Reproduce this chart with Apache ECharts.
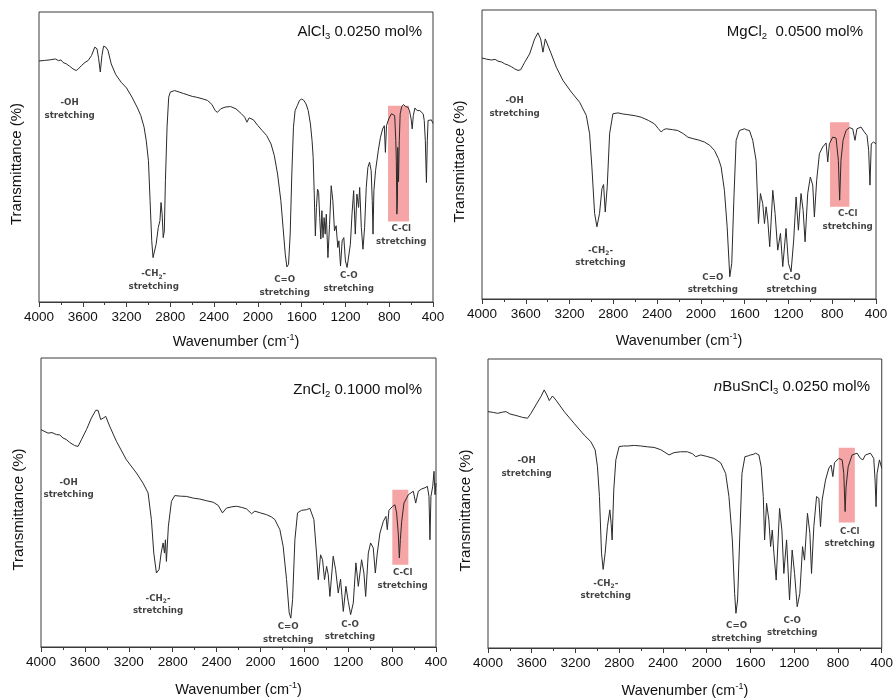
<!DOCTYPE html>
<html>
<head>
<meta charset="utf-8">
<script src="https://cdn.jsdelivr.net/npm/echarts@6/dist/echarts.min.js"></script>
<style>
  html, body { margin: 0; padding: 0; background: #ffffff; }
  #chart { width: 896px; height: 699px; }
</style>
</head>
<body>
<div id="chart"></div>
<script>
// Wavenumber ticks shared by every panel (cm^-1)
const wavenumberTicks = [4000, 3600, 3200, 2800, 2400, 2000, 1600, 1200, 800, 400];

// FTIR spectra: [wavenumber (cm^-1), transmittance (relative %)]
const alcl3Spectrum = [
  [4000,83.1],[3950,83.3],[3900,83.5],[3850,83.8],[3820,83.2],[3800,83.5],[3780,82.6],[3750,82.1],[3720,81.3],
  [3690,80.4],[3660,79.8],[3640,80.4],[3610,81.6],[3580,82.6],[3550,83.3],[3520,85.0],[3490,87.9],[3470,87.3],
  [3455,83.9],[3440,79.3],[3425,85.0],[3410,88.2],[3390,87.9],[3370,86.8],[3340,82.1],[3300,78.5],[3250,75.8],
  [3200,73.8],[3150,70.6],[3100,66.9],[3070,64.3],[3040,60.3],[3020,55.6],[3000,48.7],[2985,34.9],[2970,21.1],
  [2958,15.3],[2945,15.9],[2930,19.9],[2910,25.7],[2895,28.0],[2885,34.3],[2875,30.3],[2865,22.2],[2855,24.5],
  [2845,41.8],[2830,60.3],[2815,70.6],[2800,72.4],[2760,72.9],[2720,72.4],[2680,71.9],[2640,71.4],[2600,70.9],
  [2560,70.6],[2500,70.0],[2460,69.5],[2420,68.1],[2390,66.0],[2370,65.4],[2340,66.6],[2300,67.2],[2250,67.4],
  [2200,66.6],[2150,64.9],[2120,63.7],[2100,62.0],[2080,63.5],[2040,62.8],[2000,60.8],[1960,59.1],[1920,57.4],
  [1880,54.5],[1850,50.5],[1820,44.1],[1790,34.9],[1770,25.7],[1750,16.5],[1735,12.1],[1720,13.0],[1705,23.4],
  [1690,44.1],[1675,60.3],[1660,66.0],[1640,67.7],[1620,69.5],[1600,70.0],[1580,69.5],[1560,68.3],[1540,66.0],
  [1520,61.4],[1505,55.6],[1495,49.9],[1485,37.2],[1475,22.8],[1465,32.6],[1455,38.9],[1445,37.8],[1435,29.1],
  [1425,21.7],[1415,31.5],[1405,22.2],[1395,29.1],[1385,23.4],[1375,30.3],[1360,15.3],[1345,26.8],[1330,40.1],
  [1315,34.9],[1300,24.5],[1285,26.3],[1270,18.8],[1260,21.1],[1245,12.4],[1230,21.1],[1215,22.2],[1200,14.2],
  [1185,11.9],[1170,12.4],[1155,19.9],[1140,30.3],[1125,38.4],[1110,23.4],[1095,37.2],[1080,32.6],[1070,39.5],
  [1055,25.7],[1040,18.2],[1025,25.7],[1010,39.5],[995,46.4],[980,48.2],[965,45.3],[955,34.9],[948,23.4],
  [940,38.4],[925,45.3],[900,52.2],[880,56.8],[860,59.7],[845,60.8],[835,51.6],[825,60.8],[805,63.1],[780,64.9],
  [765,65.4],[750,64.3],[740,55.6],[735,48.7],[730,30.3],[725,34.9],[722,53.3],[715,41.5],[708,55.6],[700,64.9],
  [685,67.4],[670,68.1],[650,67.4],[630,67.2],[615,66.0],[600,63.1],[590,59.7],[580,64.3],[565,66.9],[545,66.0],
  [520,66.0],[505,66.6],[490,64.9],[480,62.6],[470,55.6],[460,41.2],[452,55.6],[445,62.6],[430,63.1],[415,62.8],
  [400,61.6]
];

const mgcl2Spectrum = [
  [4000,83.4],[3960,83.0],[3915,82.7],[3880,82.9],[3854,82.3],[3820,82.0],[3793,81.4],[3760,80.9],[3732,80.4],
  [3700,79.6],[3671,79.1],[3647,79.3],[3610,81.9],[3565,84.8],[3519,90.0],[3489,92.1],[3464,90.0],[3443,85.4],
  [3422,90.0],[3404,89.4],[3367,84.8],[3321,80.2],[3260,75.6],[3184,71.6],[3108,68.1],[3047,63.5],[3017,57.2],
  [2996,45.7],[2971,29.6],[2950,25.0],[2926,29.6],[2904,38.2],[2889,39.6],[2874,30.1],[2856,38.8],[2834,57.2],
  [2804,64.1],[2758,64.4],[2710,64.0],[2667,63.8],[2600,63.4],[2545,62.9],[2480,61.8],[2424,60.6],[2390,59.0],
  [2363,57.8],[2340,58.6],[2317,58.9],[2260,58.6],[2211,58.3],[2160,57.2],[2119,56.0],[2074,55.5],[2020,55.0],
  [1967,54.3],[1920,53.2],[1876,51.4],[1840,48.6],[1815,45.7],[1785,37.6],[1760,25.0],[1736,7.7],[1718,12.3],
  [1699,34.2],[1678,54.9],[1648,58.3],[1625,58.6],[1602,58.9],[1580,58.5],[1556,58.3],[1526,54.9],[1496,48.0],
  [1474,26.1],[1456,36.5],[1435,33.0],[1419,26.1],[1404,31.9],[1389,27.3],[1371,18.1],[1343,37.6],[1322,29.6],
  [1298,16.9],[1273,22.7],[1252,11.2],[1222,24.4],[1200,12.3],[1176,9.4],[1152,20.4],[1130,35.3],[1109,23.8],
  [1085,36.5],[1066,30.7],[1048,19.8],[1024,36.5],[1000,42.2],[978,39.4],[963,28.4],[942,41.1],[917,50.3],
  [887,52.6],[856,54.0],[841,47.4],[826,53.7],[796,56.0],[765,55.7],[744,48.0],[732,34.2],[720,48.0],[701,54.9],
  [674,58.3],[643,59.3],[613,58.9],[592,54.9],[574,58.9],[537,59.5],[507,57.8],[482,56.6],[467,51.4],[455,39.4],
  [443,53.7],[422,54.3],[400,53.7]
];

const zncl2Spectrum = [
  [4000,75.2],[3936,74.0],[3900,74.2],[3860,73.5],[3830,73.4],[3799,72.3],[3770,71.8],[3739,70.8],[3693,69.7],
  [3662,69.4],[3632,71.7],[3586,75.2],[3541,79.2],[3501,81.9],[3480,81.9],[3456,78.7],[3434,79.2],[3410,79.8],
  [3374,76.4],[3313,71.2],[3222,64.8],[3130,60.2],[3070,56.7],[3024,53.3],[2994,44.1],[2972,32.5],[2948,25.6],
  [2924,26.8],[2905,32.5],[2887,36.0],[2875,32.5],[2866,37.1],[2857,29.6],[2839,41.8],[2811,50.4],[2781,52.4],
  [2730,52.2],[2674,52.1],[2610,51.5],[2553,51.2],[2490,50.6],[2431,50.1],[2385,49.0],[2346,46.4],[2309,48.1],
  [2260,48.5],[2218,48.7],[2170,48.3],[2127,47.8],[2081,46.1],[2051,47.0],[2000,46.4],[1945,45.8],[1900,45.0],
  [1869,44.1],[1823,40.6],[1793,34.8],[1762,23.3],[1738,11.8],[1723,10.0],[1707,16.4],[1686,37.1],[1662,46.4],
  [1625,47.3],[1580,47.5],[1550,48.0],[1534,48.1],[1513,44.1],[1489,32.5],[1473,23.3],[1452,31.9],[1434,30.2],
  [1416,23.3],[1397,27.9],[1382,25.0],[1367,17.5],[1337,31.4],[1315,26.8],[1291,18.7],[1270,23.5],[1245,12.3],
  [1221,21.0],[1200,15.8],[1178,11.2],[1154,15.2],[1130,29.1],[1108,21.0],[1078,30.2],[1057,25.6],[1041,17.5],
  [1017,32.5],[996,36.0],[972,34.3],[953,25.6],[935,32.5],[911,39.4],[880,43.5],[856,45.2],[844,40.6],[829,47.3],
  [795,48.7],[774,49.2],[759,46.4],[744,39.4],[734,30.8],[725,37.1],[713,43.4],[692,49.8],[652,52.7],[607,53.9],
  [585,49.8],[561,53.9],[531,54.7],[500,55.1],[479,55.6],[464,52.1],[455,37.1],[446,52.1],[430,55.6],[418,60.8],
  [409,52.7],[400,56.7]
];

const nbusncl3Spectrum = [
  [4000,81.8],[3950,81.5],[3912,81.2],[3870,81.6],[3836,81.8],[3800,81.0],[3760,80.6],[3720,80.2],[3684,79.8],
  [3638,79.5],[3607,81.2],[3562,84.1],[3516,87.0],[3486,89.3],[3461,87.5],[3440,85.6],[3410,87.2],[3379,85.8],
  [3303,81.8],[3212,77.7],[3121,73.7],[3060,71.4],[3020,68.5],[2999,62.7],[2981,52.4],[2962,32.8],[2947,27.2],
  [2929,32.8],[2908,42.0],[2886,47.8],[2874,43.1],[2865,37.4],[2850,54.7],[2831,65.1],[2801,69.7],[2760,69.9],
  [2725,69.9],[2660,70.1],[2603,69.9],[2540,69.6],[2481,69.4],[2420,68.6],[2390,67.9],[2345,66.8],[2299,67.6],
  [2240,67.9],[2177,67.9],[2130,67.2],[2101,66.2],[2055,66.8],[2000,66.3],[1934,65.6],[1873,64.1],[1827,60.4],
  [1797,52.4],[1766,37.4],[1745,18.9],[1733,12.0],[1718,16.6],[1699,37.4],[1678,60.4],[1651,66.2],[1620,66.5],
  [1599,66.8],[1575,67.0],[1553,67.4],[1523,66.8],[1502,62.7],[1483,52.4],[1471,37.4],[1453,50.1],[1432,44.3],
  [1416,35.1],[1401,40.8],[1386,32.8],[1365,23.5],[1334,48.3],[1313,40.8],[1295,25.8],[1270,37.4],[1243,16.6],
  [1219,33.9],[1197,25.8],[1173,14.3],[1149,18.9],[1124,35.1],[1106,30.4],[1079,46.6],[1057,39.7],[1042,25.8],
  [1021,42.0],[996,52.4],[975,51.8],[960,42.0],[945,51.2],[914,58.1],[884,62.2],[863,63.3],[847,59.3],[832,64.1],
  [793,65.6],[762,65.1],[747,60.4],[735,47.2],[726,55.8],[707,62.7],[671,66.8],[625,67.4],[595,65.6],[573,65.1],
  [549,66.8],[503,67.4],[473,65.6],[461,58.1],[452,48.9],[443,60.4],[421,65.1],[400,62.2]
];

// Band assignments: [wavenumber, transmittance, label]
const alcl3Bands = [[3720,66.4,'oh'],[2952,7.5,'ch2'],[1755,5.5,'co_double'],[1170,6.8,'co_single'],[690,23.0,'ccl']];
const mgcl2Bands = [[3702,66.4,'oh'],[2917,14.6,'ch2'],[1891,5.3,'co_double'],[1170,5.3,'co_single'],[659,27.2,'ccl']];
const zncl2Bands = [[3748,54.7,'oh'],[2933,14.6,'ch2'],[1747,4.7,'co_double'],[1184,5.7,'co_single'],[704,23.5,'ccl']];
const nbusncl3Bands = [[3647,62.6,'oh'],[2923,20.2,'ch2'],[1727,5.4,'co_double'],[1219,7.3,'co_single'],[692,38.2,'ccl']];

// Highlighted C-Cl region: [from wavenumber, to wavenumber, upper T, lower T]
const alcl3Highlight = [811, 619, 67.7, 27.8];
const mgcl2Highlight = [820, 643, 61.2, 31.9];
const zncl2Highlight = [798, 652, 54.4, 28.5];
const nbusncl3Highlight = [793, 646, 69.3, 43.4];

// Sample names (rich text for subscripts / italics)
const sampleTitles = [
  '{t|AlCl}{s|3}{t| 0.0250 mol%}',
  '{t|MgCl}{s|2}{t|  0.0500 mol%}',
  '{t|ZnCl}{s|2}{t| 0.1000 mol%}',
  '{i|n}{t|BuSnCl}{s|3}{t| 0.0250 mol%}'
];

const bandText = {
  oh: '-OH\nstretching',
  ch2: '{a|-CH}{b|2}{a|-}\nstretching',
  co_double: 'C=O\nstretching',
  co_single: 'C-O\nstretching',
  ccl: 'C-Cl\nstretching'
};

const panels = [
  { spectrum: alcl3Spectrum, bands: alcl3Bands, hl: alcl3Highlight, title: sampleTitles[0] },
  { spectrum: mgcl2Spectrum, bands: mgcl2Bands, hl: mgcl2Highlight, title: sampleTitles[1] },
  { spectrum: zncl2Spectrum, bands: zncl2Bands, hl: zncl2Highlight, title: sampleTitles[2] },
  { spectrum: nbusncl3Spectrum, bands: nbusncl3Bands, hl: nbusncl3Highlight, title: sampleTitles[3] }
];

// Layout of the four plot frames (px)
const frames = [
  { left: 39, top: 12, width: 394, height: 290, nameGap: 31, titleX: 422, titleY: 32 },
  { left: 482, top: 10, width: 394, height: 289, nameGap: 33, titleX: 863, titleY: 32 },
  { left: 41, top: 358, width: 395, height: 289, nameGap: 34, titleX: 422, titleY: 390 },
  { left: 488, top: 359, width: 395, height: 289, nameGap: 34, titleX: 870, titleY: 387 }
];

const axisFont = 'Liberation Sans, Arial, Helvetica, sans-serif';
const bandFont = 'DejaVu Sans, Verdana, sans-serif';
const ink = '#111';

const xMin = Math.min(...wavenumberTicks);
const xMax = Math.max(...wavenumberTicks);
const xStep = wavenumberTicks[0] - wavenumberTicks[1];

const grid = [], xAxis = [], yAxis = [], series = [], graphic = [];

panels.forEach((p, i) => {
  const f = frames[i];
  grid.push({
    left: f.left, top: f.top, width: f.width, height: f.height,
    show: true, borderColor: '#3a3a3a', borderWidth: 1, backgroundColor: 'transparent'
  });
  xAxis.push({
    gridIndex: i, type: 'value', inverse: true,
    min: xMin, max: xMax, interval: xStep,
    axisLine: { show: true, onZero: false, lineStyle: { color: '#3a3a3a', width: 1 } },
    axisTick: { show: true, inside: false, length: 5, lineStyle: { color: '#3a3a3a' } },
    minorTick: { show: true, splitNumber: 2, length: 3, lineStyle: { color: '#3a3a3a' } },
    splitLine: { show: false },
    axisLabel: {
      fontFamily: axisFont, fontSize: 13.5, color: '#111', margin: 8,
      formatter: v => String(v)
    },
    name: 'Wavenumber (cm{sup|-1})',
    nameLocation: 'middle', nameGap: f.nameGap,
    nameTextStyle: {
      fontFamily: axisFont, fontSize: 14.5, color: '#111',
      rich: { sup: { fontFamily: axisFont, fontSize: 9, color: '#111', verticalAlign: 'top', padding: [0, 0, 8, 0] } }
    }
  });
  yAxis.push({
    gridIndex: i, type: 'value', min: 0, max: 100,
    axisLine: { show: false }, axisTick: { show: false }, axisLabel: { show: false }, splitLine: { show: false },
    name: 'Transmittance (%)', nameLocation: 'middle', nameGap: 15, nameRotate: 90,
    nameTextStyle: { fontFamily: axisFont, fontSize: 15, color: '#111', padding: [0, 14, 0, 0] }
  });

  series.push({
    type: 'line', xAxisIndex: i, yAxisIndex: i,
    data: p.spectrum, showSymbol: false, smooth: false,
    lineStyle: { color: '#2a2a2a', width: 1 },
    markArea: {
      silent: true,
      itemStyle: { color: 'rgba(238, 100, 100, 0.58)', borderRadius: 3 },
      data: [[{ coord: [p.hl[0], p.hl[2]] }, { coord: [p.hl[1], p.hl[3]] }]]
    },
    z: 3
  });

  series.push({
    type: 'scatter', xAxisIndex: i, yAxisIndex: i,
    symbolSize: 0, silent: true, z: 4,
    data: p.bands.map(b => ({ value: [b[0], b[1]], key: b[2] })),
    label: {
      show: true, position: 'inside',
      formatter: params => bandText[params.data.key],
      fontFamily: bandFont, fontSize: 8.7, fontWeight: 'bold', color: ink, lineHeight: 12.5, align: 'center',
      rich: {
        a: { fontFamily: bandFont, fontSize: 8.7, fontWeight: 'bold', color: ink, lineHeight: 12.5 },
        b: { fontFamily: bandFont, fontSize: 6, fontWeight: 'bold', color: ink, verticalAlign: 'bottom', lineHeight: 9 }
      }
    }
  });

  graphic.push({
    type: 'text', x: f.titleX, y: f.titleY, z: 10,
    style: {
      text: p.title, align: 'right', verticalAlign: 'middle',
      rich: {
        t: { fontFamily: axisFont, fontSize: 15, fill: '#111', lineHeight: 18 },
        i: { fontFamily: axisFont, fontSize: 15, fontStyle: 'italic', fill: '#111', lineHeight: 18 },
        s: { fontFamily: axisFont, fontSize: 9.5, fill: '#111', verticalAlign: 'bottom', lineHeight: 9 }
      }
    }
  });
});

const chart = echarts.init(document.getElementById('chart'), null, { renderer: 'canvas' });
chart.setOption({
  animation: false,
  backgroundColor: '#ffffff',
  grid, xAxis, yAxis, series, graphic
});
</script>
</body>
</html>
